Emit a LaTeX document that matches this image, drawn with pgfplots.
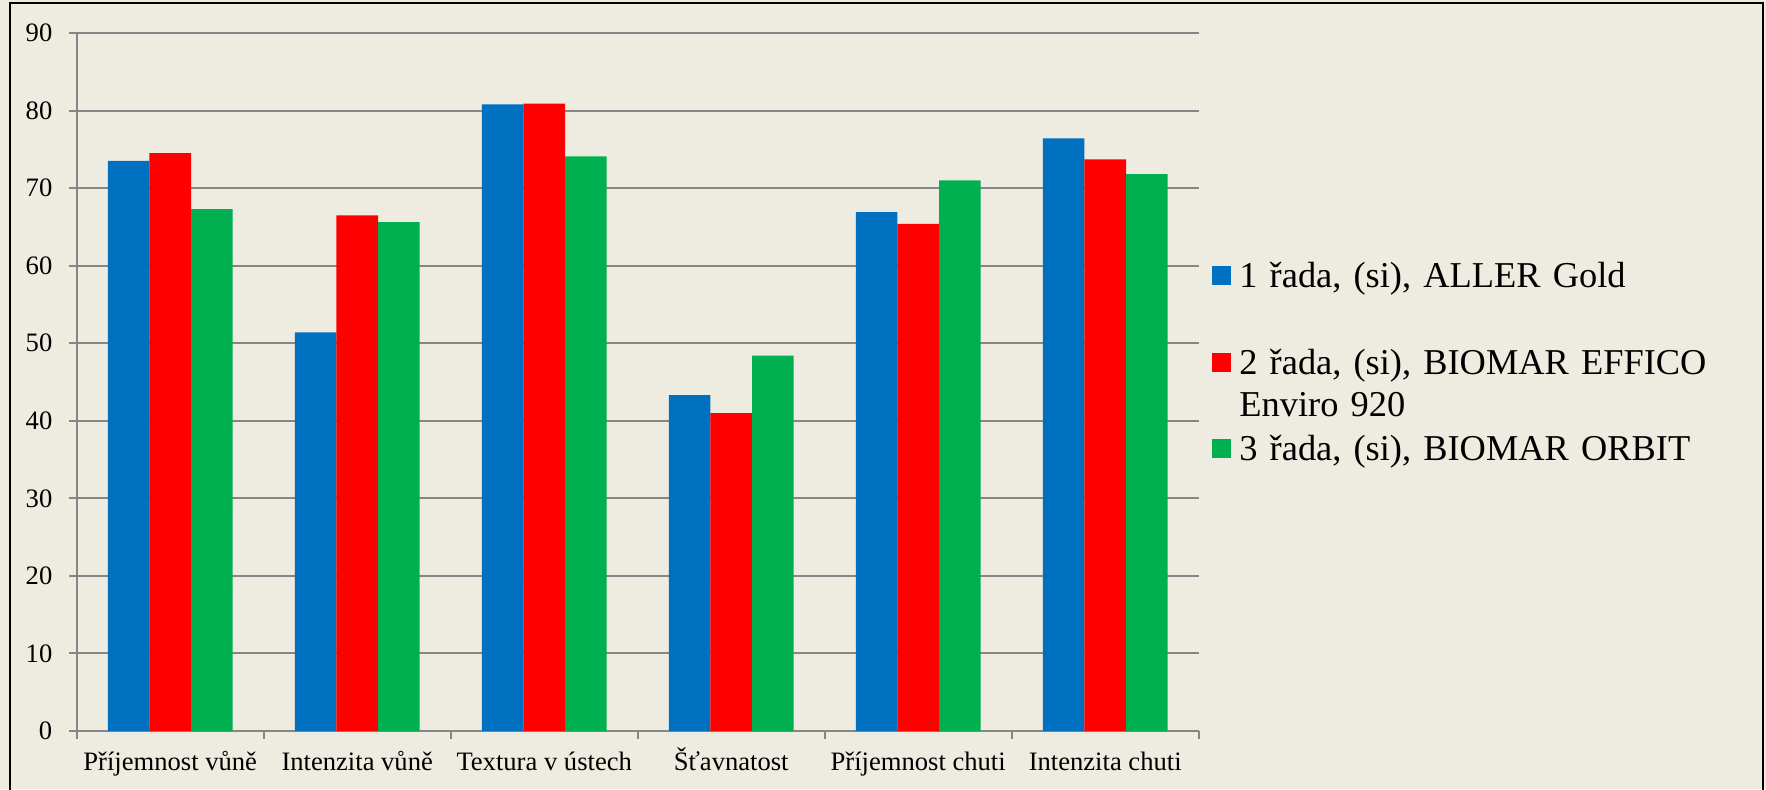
\documentclass[border=0pt]{standalone}
\usepackage{fontspec}
\setmainfont{Liberation Serif}
\usepackage{pgfplots}
\usepackage{pgfplotstable}
\pgfplotsset{compat=1.18}

\definecolor{bgtan}{HTML}{EEECE1}
\definecolor{gridgray}{HTML}{868686}
\definecolor{serA}{HTML}{0070C0}
\definecolor{serB}{HTML}{FF0000}
\definecolor{serC}{HTML}{00B050}

% sensory scores per attribute (0 = first attribute)
\pgfplotstableread{
idx A    B    C
0   73.5 74.5 67.3
1   51.4 66.5 65.6
2   80.8 80.9 74.1
3   43.3 41.0 48.4
4   66.9 65.4 71.0
5   76.4 73.7 71.8
}\scores

\begin{document}
\begin{tikzpicture}
\useasboundingbox (0,0) rectangle (883pt,394.5pt);
\fill[bgtan] (0,0) rectangle (883pt,394.5pt);
\begin{scope}
  \clip (0,0) rectangle (883pt,394.5pt);
  \draw[black, line width=1pt] (5pt,-2pt) -- (5pt,392.85pt) -- (881.5pt,392.85pt) -- (881.5pt,-2pt);
\end{scope}
\begin{axis}[
  at={(38.35pt,29pt)}, anchor=south west,
  scale only axis, width=561pt, height=349pt,
  ybar=0pt, bar width=0.2225,
  xmin=-0.5, xmax=5.5, ymin=0, ymax=90,
  axis x line*=bottom, axis y line*=left,
  axis line style={draw=gridgray, line width=1pt, -},
  ytick={0,10,...,90},
  xtick={0,...,5},
  xticklabels={Příjemnost vůně, Intenzita vůně, Textura v ústech, Šťavnatost, Příjemnost chuti, Intenzita chuti},
  minor xtick={-0.5,0.5,...,5.5},
  major x tick style={draw=none},
  tick align=outside,
  major tick length=3.85pt, minor tick length=3.85pt,
  tick style={draw=gridgray, line width=1pt},
  ymajorgrids=true,
  major grid style={draw=gridgray, line width=1pt},
  /pgf/number format/assume math mode=true,
  yticklabel style={font=\fontsize{13.3}{16}\selectfont, anchor=east, inner sep=0pt, xshift=-8.15pt},
  xticklabel style={font=\fontsize{13.3}{16}\selectfont, anchor=base, inner sep=0pt, yshift=-15.65pt},
  legend style={at={(rel axis cs:1,1)}, anchor=north west, xshift=6.65pt, yshift=-114.55pt,
    draw=none, fill=none, inner sep=0pt, row sep=9.2pt, column sep=4pt,
    font=\fontsize{18.2}{21}\selectfont,
    nodes={inner sep=0pt, text depth=, text width=255pt, align=left},
    cells={anchor=base west}},
  legend image code/.code={\fill[#1] (0pt,1.6pt) rectangle (9.5pt,11.1pt);},
]
\addplot[fill=serA, draw=none] table[x=idx, y=A] {\scores};
\addlegendentry{1 řada, (si), ALLER Gold\rule[-21.65pt]{0pt}{0pt}}
\addplot[fill=serB, draw=none] table[x=idx, y=B] {\scores};
\addlegendentry{2 řada, (si), BIOMAR EFFICO Enviro 920}
\addplot[fill=serC, draw=none] table[x=idx, y=C] {\scores};
\addlegendentry{3 řada, (si), BIOMAR ORBIT}
\end{axis}
\end{tikzpicture}
\end{document}
